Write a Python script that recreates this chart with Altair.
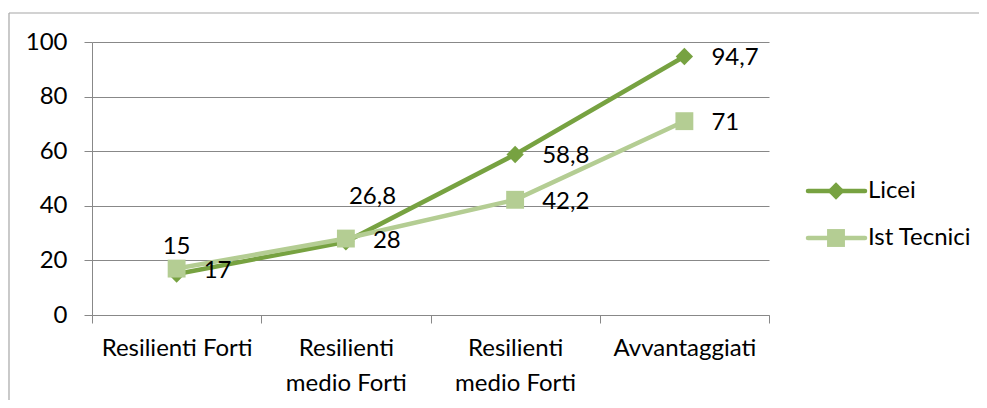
import altair as alt
import pandas as pd

# ---- data ----
categories = ["c0", "c1", "c2", "c3"]
category_lines = [
    ["Resilienti Forti"],
    ["Resilienti", "medio Forti"],
    ["Resilienti", "medio Forti"],
    ["Avvantaggiati"],
]
series = ["Licei", "Ist Tecnici"]
licei = [15, 26.8, 58.8, 94.7]
tecnici = [17, 28, 42.2, 71]
y_ticks = [0, 20, 40, 60, 80, 100]

rows = []
for s, vals in zip(series, [licei, tecnici]):
    for i, (c, v) in enumerate(zip(categories, vals)):
        rows.append({"series": s, "cat": c, "idx": i, "value": v,
                     "label": f"{v:g}".replace(".", ",")})
df = pd.DataFrame(rows)

# ---- style ----
FONT = "Lato"
FS = 24
GREY = "#888888"
BORDER = "#A6A6A6"
colors = {"Licei": "#77A241", "Ist Tecnici": "#B4CD93"}
shapes = {"Licei": "diamond", "Ist Tecnici": "square"}
sizes = {"Licei": 300, "Ist Tecnici": 320}

parts = []
for c, lines in zip(categories, category_lines):
    arr = ", ".join("'" + l + "'" for l in lines)
    parts.append(f"datum.value == '{c}' ? [{arr}]")
label_expr = " : ".join(parts) + " : ''"

x_enc = alt.X(
    "cat:N",
    sort=categories,
    scale=alt.Scale(type="band", domain=categories, paddingInner=0, paddingOuter=0),
    axis=alt.Axis(
        title=None, labelExpr=label_expr, tickBand="extent", labelAngle=0,
        labelFont=FONT, labelFontSize=FS, labelColor="black", labelPadding=13,
        labelLineHeight=35, tickSize=8, tickColor=GREY, domainColor=GREY,
        grid=False,
    ),
)
y_enc = alt.Y(
    "value:Q",
    scale=alt.Scale(domain=[0, 100], nice=False),
    axis=alt.Axis(
        title=None, values=y_ticks, grid=True, gridColor=GREY, tickSize=8,
        labelPadding=17, labelFont=FONT, labelFontSize=FS, labelColor="black",
        domainColor=GREY, tickColor=GREY,
    ),
)

base = alt.Chart(df)
layers = []

# frame border of the chart area
one = pd.DataFrame({"k": [0]})
layers.append(alt.Chart(one).mark_rule(color=BORDER, strokeWidth=1.2).encode(
    x=alt.value(-83), x2=alt.value(887), y=alt.value(-29)))
layers.append(alt.Chart(one).mark_rule(color=BORDER, strokeWidth=1.2).encode(
    x=alt.value(-83), y=alt.value(-29), y2=alt.value(358)))

for s in series:
    sel = base.transform_filter(alt.datum.series == s)
    layers.append(sel.mark_line(color=colors[s], strokeWidth=4.5).encode(x=x_enc, y=y_enc))
    layers.append(sel.mark_point(filled=True, opacity=1, shape=shapes[s],
                                 size=sizes[s], color=colors[s]).encode(x=x_enc, y=y_enc))

# value labels
right = base.transform_filter(
    ~((alt.datum.series == "Licei") & (alt.datum.idx <= 1)))
layers.append(right.mark_text(align="left", baseline="middle", dx=27, dy=2,
                              font=FONT, fontSize=FS, color="black").encode(
    x=x_enc, y=y_enc, text="label:N"))
above = base.transform_filter((alt.datum.series == "Licei") & (alt.datum.idx == 0))
layers.append(above.mark_text(align="center", baseline="middle", dy=-27,
                              font=FONT, fontSize=FS, color="black").encode(
    x=x_enc, y=y_enc, text="label:N"))
above_r = base.transform_filter((alt.datum.series == "Licei") & (alt.datum.idx == 1))
layers.append(above_r.mark_text(align="left", baseline="middle", dx=3, dy=-45,
                                font=FONT, fontSize=FS, color="black").encode(
    x=x_enc, y=y_enc, text="label:N"))

# legend
leg_y = {"Licei": 149, "Ist Tecnici": 196}
for s in series:
    d = pd.DataFrame({"series": [s]})
    layers.append(alt.Chart(d).mark_rule(color=colors[s], strokeWidth=4.5, strokeCap="round").encode(
        x=alt.value(716), x2=alt.value(773), y=alt.value(leg_y[s])))
    layers.append(alt.Chart(d).mark_point(filled=True, opacity=1, shape=shapes[s],
                                          size=sizes[s], color=colors[s]).encode(
        x=alt.value(744), y=alt.value(leg_y[s])))
    layers.append(alt.Chart(d).mark_text(align="left", baseline="middle", font=FONT,
                                         fontSize=FS, color="black").encode(
        x=alt.value(776), y=alt.value(leg_y[s]), text="series:N"))

chart = alt.layer(*layers).properties(
    width=677, height=273,
    autosize=alt.AutoSizeParams(type="none"),
    padding={"left": 84, "top": 34, "right": 210, "bottom": 85},
    background="white",
).configure_view(stroke=None)

chart.save("out.html", embed_options={"renderer": "svg", "actions": False})
